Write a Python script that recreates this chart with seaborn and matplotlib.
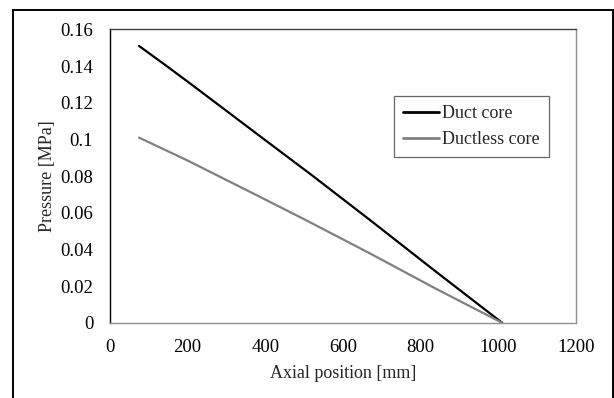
import matplotlib
matplotlib.use("Agg")
import matplotlib.pyplot as plt
import matplotlib.patches as mpatches
import pandas as pd
import seaborn as sns

# values
duct_x = [75, 140, 210, 360, 520, 670, 840, 1010]
duct_p = [0.151, 0.141, 0.130, 0.106, 0.0805, 0.056, 0.0278, 0.0]
ductless_x = [75, 200, 360, 500, 670, 840, 1010]
ductless_p = [0.101, 0.0885, 0.0715, 0.0565, 0.0378, 0.0185, 0.0]
series_names = ["Duct core", "Ductless core"]
x_ticks = [0, 200, 400, 600, 800, 1000, 1200]
y_ticks = [0, 0.02, 0.04, 0.06, 0.08, 0.1, 0.12, 0.14, 0.16]
y_tick_labels = ["0", "0.02", "0.04", "0.06", "0.08", "0.1", "0.12", "0.14", "0.16"]

df = pd.concat([
    pd.DataFrame({"x": duct_x, "p": duct_p, "case": series_names[0]}),
    pd.DataFrame({"x": ductless_x, "p": ductless_p, "case": series_names[1]}),
])

sns.set_style("white")
plt.rcParams["font.family"] = ["Liberation Serif", "DejaVu Serif"]
plt.rcParams["font.size"] = 13

fig = plt.figure(figsize=(6.14, 3.98), dpi=100)
ax = fig.add_axes([0.179, 0.189, 0.759, 0.737])

sns.lineplot(data=df, x="x", y="p", hue="case", sort=False,
             palette={series_names[0]: "#000000", series_names[1]: "#808080"},
             linewidth=1.6, ax=ax, legend=False)

ax.set_xlim(0, 1200)
ax.set_ylim(0, 0.16)
ax.set_xticks(x_ticks)
ax.set_yticks(y_ticks)
ax.set_yticklabels(y_tick_labels)
ax.tick_params(axis="both", length=0, labelsize=13.5, colors="#000000")
ax.tick_params(axis="y", pad=12)
ax.tick_params(axis="x", pad=12)
ax.set_xlabel("Axial position [mm]", fontsize=13, labelpad=6)
ax.set_ylabel("Pressure [MPa]", fontsize=13, labelpad=3)

ax.spines["left"].set_color("#000000")
ax.spines["top"].set_color("#404040")
ax.spines["right"].set_color("#909090")
ax.spines["bottom"].set_color("#909090")
for s in ax.spines.values():
    s.set_linewidth(1.0)

handles = [plt.Line2D([], [], color="#000000", lw=2.0),
           plt.Line2D([], [], color="#808080", lw=2.0)]
leg = ax.legend(handles, series_names, loc="upper left",
                bbox_to_anchor=(0.609, 0.773), fontsize=13, frameon=True,
                fancybox=False, handlelength=2.0, handletextpad=0.2,
                borderpad=0.5, labelspacing=0.5, borderaxespad=0)
leg.get_frame().set_edgecolor("#404040")
leg.get_frame().set_linewidth(0.9)

# outer chart frame (bottom edge lies outside the picture)
fig.patches.append(mpatches.Rectangle((13 / 614, -0.02), 600 / 614, 1 - 10 / 398 + 0.02,
                                      transform=fig.transFigure, fill=False,
                                      edgecolor="#000000", linewidth=1.4))

fig.savefig("out.png", dpi=100)
